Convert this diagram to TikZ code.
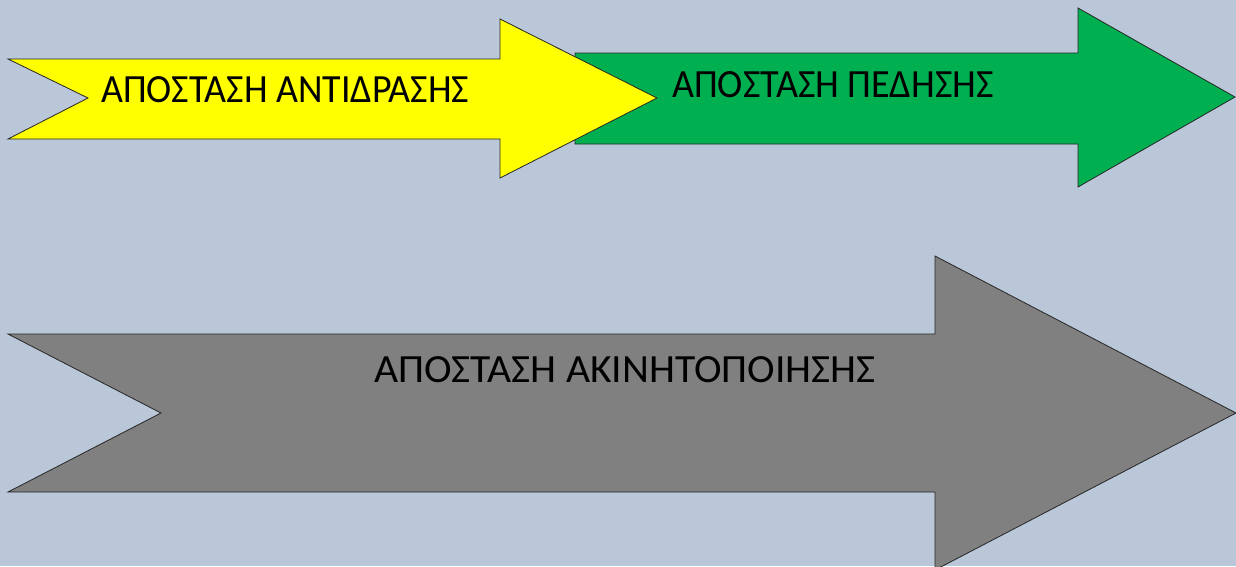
\documentclass[tikz,border=0pt]{standalone}
\usepackage{fontspec}
\setmainfont{Carlito}
\definecolor{bgc}{RGB}{185,199,217}
\definecolor{yel}{RGB}{255,255,0}
\definecolor{grn}{RGB}{0,176,80}
\definecolor{gry}{RGB}{128,128,128}
\tikzset{
  arrowshape/.style={draw=black!85, line width=0.8pt, line join=miter},
  lbl/.style={inner sep=0pt, anchor=base west, font=\fontsize{40}{48}\selectfont, text=black}
}
\begin{document}
\begin{tikzpicture}[x=1pt,y=-1pt]
\fill[bgc] (0,0) rectangle (1236,566);
\useasboundingbox (0,0) rectangle (1236,566);
\begin{scope}
\clip (0,0) rectangle (1236,566);
% green arrow
\filldraw[arrowshape, fill=grn] (575,53) -- (1078,53) -- (1078,8) -- (1235,97) -- (1078,187) -- (1078,144) -- (575,144) -- cycle;
% yellow arrow
\filldraw[arrowshape, fill=yel] (8,59) -- (500,59) -- (500,19) -- (657,98) -- (500,178) -- (500,139) -- (8,139) -- (88,98) -- cycle;
% gray arrow
\filldraw[arrowshape, fill=gry] (8,334) -- (935,334) -- (935,256) -- (1236,413) -- (935,570) -- (935,492) -- (8,492) -- (161,413) -- cycle;
\end{scope}
\node[lbl] (ta) at (101,102) {\scalebox{0.948}[1]{ΑΠΟΣΤΑΣΗ ΑΝΤΙΔΡΑΣΗΣ}};
\node[lbl] (tb) at (672,97) {\scalebox{0.952}[1]{ΑΠΟΣΤΑΣΗ ΠΕΔΗΣΗΣ}};
\node[lbl] (tc) at (374,382) {\scalebox{1.04}[1]{ΑΠΟΣΤΑΣΗ ΑΚΙΝΗΤΟΠΟΙΗΣΗΣ}};
\end{tikzpicture}
\end{document}
